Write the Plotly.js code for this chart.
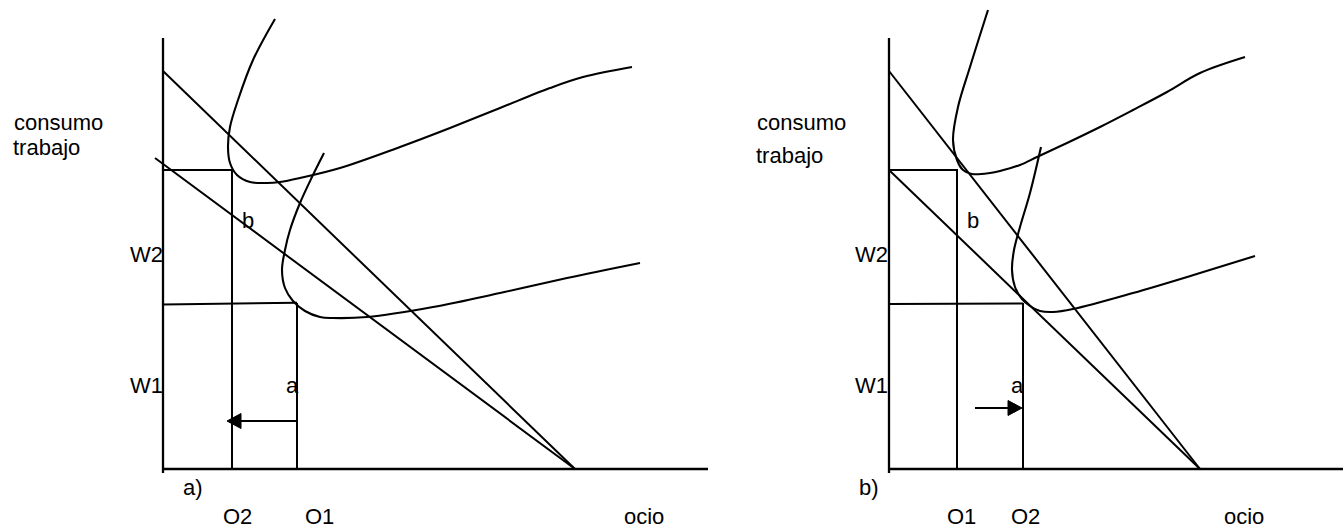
<!DOCTYPE html>
<html>
<head>
<meta charset="utf-8">
<script src="https://cdn.plot.ly/plotly-3.0.1.min.js"></script>
<style>html,body{margin:0;padding:0;background:#fff;}#chart{width:1343px;height:529px;}</style>
</head>
<body>
<div id="chart"></div>
<script>
// ---- Diagram geometry (drawing units, y grows downward) ----
// Panel a)
const a_yAxis_x = [163, 163], a_yAxis_y = [38, 473];
const a_xAxis_x = [163, 708], a_xAxis_y = [469, 469];
const a_budgetSteep_x = [163, 575], a_budgetSteep_y = [71, 469];
const a_budgetFlat_x = [155, 575], a_budgetFlat_y = [158, 469];
const a_W2line_x = [163, 232], a_W2line_y = [170, 170];
const a_O2line_x = [232, 232], a_O2line_y = [170, 469];
const a_W1line_x = [163, 297], a_W1line_y = [304.5, 302.7];
const a_O1line_x = [297, 297], a_O1line_y = [303, 469];
const a_curveHigh_x = [275, 253, 238, 230, 228, 230, 237, 250, 267, 280, 300, 340, 400, 450, 500, 550, 583, 632];
const a_curveHigh_y = [19, 60, 100, 127, 147, 163, 175, 182, 183, 182, 178, 168, 147, 128, 108, 88, 77, 67];
const a_curveLow_x = [324, 312, 300, 290, 285, 282, 285, 293, 305, 320, 333, 367, 433, 500, 567, 640];
const a_curveLow_y = [153, 177, 203, 230, 250, 270, 288, 301, 311, 317, 318, 317, 307, 293, 278, 263];
const a_arrow = {from: 297, to: 227, y: 421};

// Panel b)
const b_yAxis_x = [889, 889], b_yAxis_y = [38, 473];
const b_xAxis_x = [889, 1343], b_xAxis_y = [469, 469];
const b_budgetSteep_x = [889, 1200], b_budgetSteep_y = [71, 469];
const b_budgetFlat_x = [889, 1200], b_budgetFlat_y = [170, 469];
const b_W2line_x = [889, 958], b_W2line_y = [170, 170];
const b_O1line_x = [957, 957], b_O1line_y = [170, 469];
const b_W1line_x = [889, 1023], b_W1line_y = [304, 303.5];
const b_O2line_x = [1023, 1023], b_O2line_y = [303, 469];
const b_curveHigh_x = [988, 970, 958, 953, 957, 963, 972, 990, 1000, 1020, 1037, 1067, 1100, 1133, 1167, 1200, 1245];
const b_curveHigh_y = [10, 67, 107, 140, 160, 170, 174, 173, 171, 165, 157, 143, 127, 110, 92, 73, 57];
const b_curveLow_x = [1041, 1030, 1020, 1014, 1012, 1015, 1022, 1030, 1040, 1053, 1073, 1133, 1200, 1255];
const b_curveLow_y = [147, 193, 227, 250, 270, 287, 299, 306, 311, 312, 309, 293, 273, 256];
const b_arrow = {from: 975, to: 1022, y: 408};

// Labels
const labelText = ["consumo", "trabajo", "b", "W2", "W1", "a", "a)", "O2", "O1", "ocio",
                   "consumo", "trabajo", "b", "W2", "W1", "a", "b)", "O1", "O2", "ocio"];
const labelX = [58, 46.5, 247.5, 146, 146, 292.5, 192.5, 237, 319, 643.5,
                801, 789.5, 972.5, 871, 871, 1017.5, 868.5, 961, 1025, 1244];
const labelY = [122.5, 147.5, 220, 254, 385.5, 385.5, 487, 516.5, 516.5, 516.5,
                122.5, 155.5, 220, 254, 385.5, 385.5, 487, 516.5, 516.5, 516.5];

// ---- Build traces ----
const LW = 2, AXW = 2.3, INK = '#000';
const traces = [];
function seg(x, y, w, shape) {
  traces.push({x: x, y: y, type: 'scatter', mode: 'lines',
    line: {color: INK, width: w || LW, shape: shape || 'linear', smoothing: 1},
    hoverinfo: 'skip'});
}
function arrow(a) {
  const dir = a.to < a.from ? -1 : 1;
  const headLen = 14, half = 7.5;
  const base = a.to - dir * headLen;
  seg([a.from, base], [a.y, a.y], 1.9);
  traces.push({x: [a.to, base, base, a.to], y: [a.y, a.y - half, a.y + half, a.y],
    type: 'scatter', mode: 'lines', fill: 'toself', fillcolor: INK,
    line: {color: INK, width: 1}, hoverinfo: 'skip'});
}

seg(a_yAxis_x, a_yAxis_y, AXW); seg(a_xAxis_x, a_xAxis_y, AXW);
seg(a_budgetSteep_x, a_budgetSteep_y); seg(a_budgetFlat_x, a_budgetFlat_y);
seg(a_W2line_x, a_W2line_y); seg(a_O2line_x, a_O2line_y);
seg(a_W1line_x, a_W1line_y); seg(a_O1line_x, a_O1line_y);
seg(a_curveHigh_x, a_curveHigh_y, 2.1, 'spline'); seg(a_curveLow_x, a_curveLow_y, 2.1, 'spline');
arrow(a_arrow);

seg(b_yAxis_x, b_yAxis_y, AXW); seg(b_xAxis_x, b_xAxis_y, AXW);
seg(b_budgetSteep_x, b_budgetSteep_y); seg(b_budgetFlat_x, b_budgetFlat_y);
seg(b_W2line_x, b_W2line_y); seg(b_O1line_x, b_O1line_y);
seg(b_W1line_x, b_W1line_y); seg(b_O2line_x, b_O2line_y);
seg(b_curveHigh_x, b_curveHigh_y, 2.1, 'spline'); seg(b_curveLow_x, b_curveLow_y, 2.1, 'spline');
arrow(b_arrow);

const annotations = labelText.map((t, i) => ({
  text: t, x: labelX[i], y: labelY[i], xref: 'x', yref: 'y',
  xanchor: 'center', yanchor: 'middle', showarrow: false,
  font: {family: 'Liberation Sans, Arial, sans-serif', size: 22, color: '#000'}
}));

const layout = {
  width: 1343, height: 529,
  margin: {l: 0, r: 0, t: 0, b: 0, pad: 0},
  paper_bgcolor: '#fff', plot_bgcolor: '#fff',
  showlegend: false,
  xaxis: {range: [0, 1343], visible: false, fixedrange: true},
  yaxis: {range: [529, 0], visible: false, fixedrange: true},
  annotations: annotations
};

Plotly.newPlot('chart', traces, layout, {staticPlot: true, displayModeBar: false});
</script>
</body>
</html>
